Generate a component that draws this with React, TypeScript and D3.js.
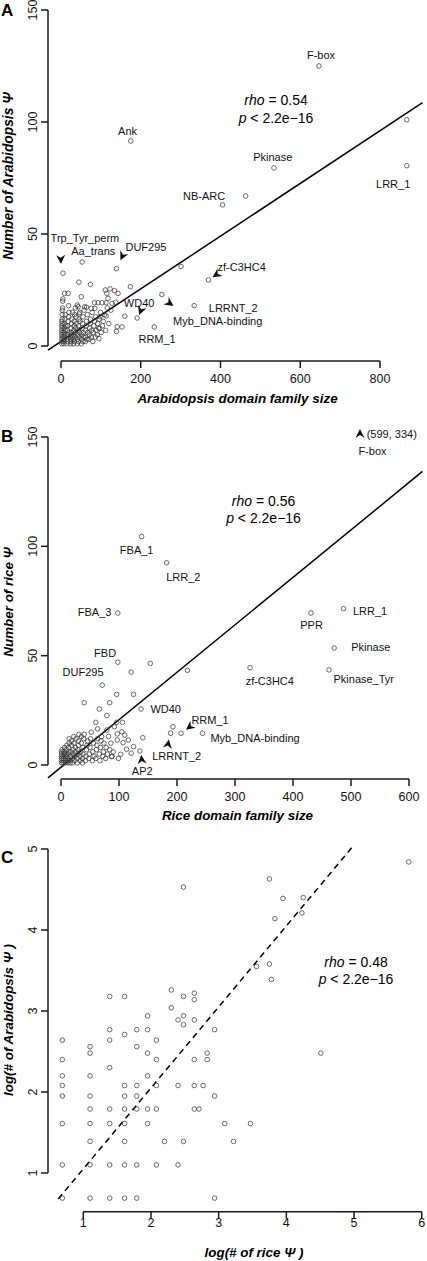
import React from 'react';
import * as d3 from 'd3';

const FONT = '"Liberation Sans", Arial, Helvetica, sans-serif';

// ---------- Panel A: Arabidopsis domain family size vs number of Arabidopsis Ψ ----------
const arabPoints: [number, number][] = [
  [647, 125], [867, 101], [867, 80.5], [175, 91.5], [534, 79.5], [463, 67], [405, 63],
  [5, 32.5], [53, 37.5], [139, 34.5], [301, 35.5], [370, 29.5], [191, 12.5], [253, 23], [334, 18], [234, 8.5],
  [174, 26.5], [160, 13.3], [153, 8.5], [141, 8.6], [139, 6.5], [95, 3.3], [97, 7.9],
  [45, 28.5], [74, 27.5], [9, 23.5], [18, 23.5], [5, 21], [51, 22],
  [111, 25], [123, 25.5], [134, 24.7], [115, 23.4], [143, 23.5], [118, 21.3],
  [93, 19.3], [103, 19.3], [113, 19.3], [137, 19.5], [84, 19.3],
  [43, 17.5], [59, 17.5], [76, 16.8], [85, 16.8], [41, 18.3], [64, 17.3], [113, 13.4], [98, 13.1], [46, 14.3],
  [2, 1], [2, 3], [2, 5], [2, 7], [2, 9], [2, 11], [3, 2], [3, 4], [3, 6], [3, 8], [3, 10], [3, 12], [3, 14], [3, 16], [4, 20], [4, 17],
  [7, 1], [7, 2], [7, 4], [7, 6], [8, 8], [8, 10], [8, 3], [9, 5], [10, 12], [11, 14], [10, 7], [12, 9],
  [15, 1], [15, 3], [16, 5], [16, 7], [17, 2], [17, 9], [18, 11], [18, 4], [19, 13], [20, 6], [20, 15], [19, 18],
  [24, 1], [24, 3], [25, 5], [25, 8], [26, 2], [26, 10], [27, 12], [27, 6], [28, 4], [29, 15],
  [31, 1], [31, 3], [32, 5], [32, 7], [33, 9], [33, 11], [34, 2], [34, 14], [35, 4], [36, 6], [36, 17], [37, 8], [38, 10], [38, 13],
  [41, 1], [41, 3], [42, 5], [43, 7], [44, 2], [44, 9], [45, 12], [46, 4], [47, 6], [47, 15], [48, 11],
  [51, 1], [51, 3], [52, 5], [53, 8], [54, 10], [55, 2], [55, 13], [56, 6], [57, 4], [58, 16],
  [61, 2], [62, 4], [62, 7], [63, 9], [64, 11], [65, 3], [66, 14], [67, 6],
  [70, 3], [71, 5], [72, 8], [73, 10], [74, 12], [76, 4], [77, 7], [78, 15],
  [80, 2], [81, 6], [82, 9], [84, 11], [86, 4], [87, 13], [88, 7],
  [91, 5], [92, 10], [94, 8], [96, 12], [99, 15], [101, 6], [104, 9], [106, 11], [109, 14], [112, 7], [116, 17], [120, 10], [125, 16], [128, 19],
];
const arabLabels: [string, number, number][] = [
  ['F-box', 652, 128], ['Ank', 167, 94], ['Pkinase', 531, 82.4], ['LRR_1', 833, 70.5], ['NB-ARC', 359, 65],
  ['Trp_Tyr_perm', 60, 46.4], ['Aa_trans', 81, 40.8], ['DUF295', 213, 42.4], ['zf-C3HC4', 453, 33.5],
  ['WD40', 196, 17.6], ['LRRNT_2', 432, 15.4], ['Myb_DNA-binding', 393, 9.4], ['RRM_1', 241, 1.3],
];
const arabArrows: [number, number, number][] = [
  [0, 36.6, 88], [149, 38.3, 116], [380, 30.7, 146], [196, 13.8, 110], [282, 17.9, 35],
];
const arabFit = { intercept: 2.0, slope: 0.1176 };
const arabXTicks = [0, 200, 400, 600, 800];
const arabYTicks = [0, 50, 100, 150];

// ---------- Panel B: rice domain family size vs number of rice Ψ ----------
const ricePoints: [number, number][] = [
  [139, 104.5], [182, 92.5], [98, 69.5], [487, 71.5], [431, 69.5], [471, 53.5], [462, 43.5], [326, 44.5],
  [98, 47], [154, 46.5], [121, 42.5], [218, 43.3], [71, 36.5], [96, 32.3], [125, 32.3], [40, 28.5], [84, 28.5], [66, 25.6], [138, 25.6],
  [79, 22.6], [60, 19.5], [63, 16.5], [96, 19.5], [106, 19.5], [141, 12.5], [193, 17.5], [189, 14.5], [207, 14.5], [244, 14.5], [136, 6.4],
  [113, 7.2], [107, 10.2], [121, 5.4], [87, 3.8], [103, 4.9], [92, 17.5], [97, 14.2], [97, 11.4], [79, 16], [70, 13],
  [105, 15.2], [110, 13.7], [116, 11.4], [125, 8.4], [99, 3],
  [1, 1], [1, 2], [1, 3], [1, 4], [1, 5], [1, 6], [2, 7],
  [4, 1], [4, 2], [4, 3], [5, 4], [5, 5], [5, 6], [6, 8],
  [8, 1], [8, 2], [8, 3], [9, 4], [9, 5], [9, 7], [10, 9],
  [12, 1], [12, 2], [12, 3], [13, 5], [13, 6], [13, 8], [14, 10], [14, 12],
  [16, 1], [16, 2], [17, 4], [17, 6], [18, 9], [18, 11],
  [20, 1], [20, 3], [21, 5], [21, 7], [22, 10], [22, 13],
  [24, 2], [24, 4], [25, 6], [25, 8], [26, 12],
  [28, 1], [28, 3], [29, 5], [29, 7], [30, 9], [30, 11], [31, 14],
  [33, 2], [33, 4], [34, 6], [35, 10], [35, 13],
  [37, 1], [37, 3], [38, 5], [38, 8], [39, 12], [40, 14],
  [42, 2], [43, 4], [44, 7], [45, 9], [46, 11],
  [48, 3], [49, 5], [50, 8], [51, 12], [52, 15],
  [54, 2], [55, 6], [56, 10], [57, 4],
  [60, 3], [61, 7], [62, 9], [63, 12],
  [66, 5], [67, 2], [68, 8], [69, 11],
  [72, 4], [73, 6], [74, 10],
  [77, 3], [78, 8], [80, 5], [82, 13], [84, 7], [86, 10], [88, 4], [90, 6],
];
const riceLabels: [string, number, number][] = [
  ['F-box', 537, 141.8], ['FBA_1', 130.5, 96.3], ['LRR_2', 211, 84.2], ['FBA_3', 58, 68.2], ['LRR_1', 533, 68.8],
  ['PPR', 432, 62], ['Pkinase', 534, 52.2], ['Pkinase_Tyr', 522, 37.5], ['zf-C3HC4', 360, 36.4], ['FBD', 76, 49.4],
  ['DUF295', 38, 40.5], ['WD40', 180.5, 23.8], ['RRM_1', 257, 18.8], ['Myb_DNA-binding', 334.5, 10.5],
  ['LRRNT_2', 199.5, 2.5], ['AP2', 140, -4.6],
];
const riceOffChart = { label: '(599, 334)', x: 527, y: 149.6 };
const riceArrows: [number, number, number][] = [
  [515.5, 153.7, -90], [215.5, 16.1, 142], [186, 11.7, -80], [138.4, 4.6, -95],
];
const riceFit = { intercept: -1.0, slope: 0.217 };
const riceXTicks = [0, 100, 200, 300, 400, 500, 600];
const riceYTicks = [0, 50, 100, 150];

// ---------- Panel C: log(# of rice Ψ) vs log(# of Arabidopsis Ψ) ----------
const logPoints: [number, number][] = [
  [5.81, 4.84], [3.75, 4.63], [2.48, 4.53], [3.95, 4.39], [4.25, 4.40], [3.83, 4.14], [4.23, 4.21],
  [3.56, 3.55], [3.75, 3.58], [3.78, 3.39],
  [1.39, 3.18], [1.61, 3.18], [2.48, 3.18], [2.30, 3.26], [2.64, 3.22], [2.64, 3.14], [2.30, 3.04],
  [1.95, 2.94], [2.48, 2.94], [2.40, 2.89], [2.64, 2.89], [2.48, 2.83],
  [1.39, 2.77], [1.79, 2.77], [1.95, 2.77], [2.94, 2.77], [1.61, 2.71],
  [0.69, 2.64], [1.39, 2.64], [2.08, 2.64], [1.10, 2.56], [1.79, 2.56],
  [1.10, 2.48], [1.95, 2.48], [2.83, 2.48], [4.51, 2.48],
  [0.69, 2.40], [2.08, 2.40], [2.64, 2.40], [2.83, 2.40], [1.39, 2.30],
  [0.69, 2.20], [1.10, 2.20], [1.95, 2.20],
  [0.69, 2.08], [1.61, 2.08], [1.79, 2.08], [2.08, 2.08], [2.40, 2.08], [2.64, 2.08], [2.77, 2.08],
  [0.69, 1.95], [1.10, 1.95], [1.61, 1.95], [1.79, 1.95], [2.94, 1.95],
  [1.10, 1.79], [1.39, 1.79], [1.61, 1.79], [1.79, 1.79], [1.95, 1.79], [2.08, 1.79], [2.64, 1.79], [2.71, 1.79],
  [0.69, 1.61], [1.10, 1.61], [1.39, 1.61], [1.61, 1.61], [1.95, 1.61], [3.09, 1.61], [3.47, 1.61],
  [1.10, 1.39], [1.61, 1.39], [2.20, 1.39], [2.48, 1.39], [3.22, 1.39],
  [0.69, 1.10], [1.10, 1.10], [1.39, 1.10], [1.61, 1.10], [1.79, 1.10], [2.08, 1.10], [2.40, 1.10],
  [0.69, 0.69], [1.10, 0.69], [1.39, 0.69], [1.61, 0.69], [1.79, 0.69], [2.94, 0.69],
];
const logFit = { intercept: 0.05, slope: 1.0, from: 0.63 };
const logXTicks = [1, 2, 3, 4, 5, 6];
const logYTicks = [1, 2, 3, 4, 5];

// ---------- layout ----------
const AXIS_X = 48;
const PLOT_RIGHT = 422.5;

const xA = d3.scaleLinear().domain([0, 800]).range([61, 380]);
const yA = d3.scaleLinear().domain([0, 150]).range([346, 10]);
const xB = d3.scaleLinear().domain([0, 600]).range([61, 409]);
const yB = d3.scaleLinear().domain([0, 150]).range([765, 437]);
const xC = d3.scaleLinear().domain([1, 6]).range([83.3, 421.7]);
const yC = d3.scaleLinear().domain([1, 4]).range([1173, 930]);

const STROKE = '#1a1a1a';

function Dart({ x, y, angle }: { x: number; y: number; angle: number }) {
  return (
    <path
      d="M0,0 L-9,-4.5 L-6.2,0 L-9,4.5 Z"
      transform={`translate(${x},${y}) rotate(${angle})`}
      fill="#111"
    />
  );
}

function Axes({ x, y, xTicks, yTicks, axisY, labelBase }: any) {
  const x0 = x(xTicks[0]);
  const x1 = x(xTicks[xTicks.length - 1]);
  const y0 = y(yTicks[0]);
  const y1 = y(yTicks[yTicks.length - 1]);
  return (
    <g>
      <line x1={x0} x2={x1} y1={axisY} y2={axisY} stroke={STROKE} strokeWidth={1.5} />
      {xTicks.map((t: number) => (
        <g key={'x' + t}>
          <line x1={x(t)} x2={x(t)} y1={axisY} y2={axisY + 7} stroke={STROKE} strokeWidth={1.5} />
          <text x={x(t)} y={labelBase} textAnchor="middle" fontSize={12.5} fill="#111">{t}</text>
        </g>
      ))}
      <line x1={AXIS_X} x2={AXIS_X} y1={y0} y2={y1} stroke={STROKE} strokeWidth={1.5} />
      {yTicks.map((t: number) => (
        <g key={'y' + t}>
          <line x1={AXIS_X - 7} x2={AXIS_X} y1={y(t)} y2={y(t)} stroke={STROKE} strokeWidth={1.5} />
          <text transform={`translate(37,${y(t)}) rotate(-90)`} textAnchor="middle" fontSize={12.5} fill="#111">{t}</text>
        </g>
      ))}
    </g>
  );
}

function Points({ data, x, y }: any) {
  return (
    <g>
      {data.map((d: [number, number], i: number) => (
        <circle key={i} cx={x(d[0])} cy={y(d[1])} r={2.3} fill="none" stroke="#3a3a3a" strokeWidth={0.75} />
      ))}
    </g>
  );
}

function FitLine({ fit, x, y, xFrom, xTo, dash }: any) {
  const line = d3.line<number>().x((v) => x(v)).y((v) => y(fit.intercept + fit.slope * v));
  return <path d={line([xFrom, xTo]) || ''} fill="none" stroke="#000" strokeWidth={1.5} strokeDasharray={dash} />;
}

function Labels({ data, x, y }: any) {
  return (
    <g>
      {data.map((d: [string, number, number]) => (
        <text key={d[0] + d[1]} x={x(d[1])} y={y(d[2])} textAnchor="middle" fontSize={11} fill="#111">{d[0]}</text>
      ))}
    </g>
  );
}

function Rho({ cx, y1, y2, rho }: { cx: number; y1: number; y2: number; rho: string }) {
  return (
    <g fontSize={14} fill="#000">
      <text x={cx} y={y1} textAnchor="middle"><tspan fontStyle="italic">rho</tspan> = {rho}</text>
      <text x={cx} y={y2} textAnchor="middle"><tspan fontStyle="italic">p</tspan> &lt; 2.2e−16</text>
    </g>
  );
}

export default function App() {
  const aFrom = xA.invert(AXIS_X);
  const aTo = xA.invert(PLOT_RIGHT);
  const bFrom = xB.invert(AXIS_X);
  const bTo = xB.invert(PLOT_RIGHT);
  const cTopY = yC.invert(847);
  const cTo = (cTopY - logFit.intercept) / logFit.slope;

  return (
    <svg
      width={427}
      height={1261}
      style={{ position: 'absolute', left: 0, top: 0, display: 'block', background: '#fff' }}
      fontFamily={FONT}
    >
      <rect x={0} y={0} width={427} height={1261} fill="#fff" />

      {/* Panel A */}
      <text x={1} y={15.5} fontSize={17} fontWeight="bold">A</text>
      <Axes x={xA} y={yA} xTicks={arabXTicks} yTicks={arabYTicks} axisY={361} labelBase={383} />
      <FitLine fit={arabFit} x={xA} y={yA} xFrom={aFrom} xTo={aTo} />
      <Points data={arabPoints} x={xA} y={yA} />
      <Labels data={arabLabels} x={xA} y={yA} />
      {arabArrows.map((a, i) => <Dart key={'aa' + i} x={xA(a[0])} y={yA(a[1])} angle={a[2]} />)}
      <Rho cx={276} y1={105} y2={123} rho="0.54" />
      <text x={237.5} y={403} textAnchor="middle" fontSize={13.4} fontWeight="bold" fontStyle="italic">Arabidopsis domain family size</text>
      <text transform="translate(13,176) rotate(-90)" textAnchor="middle" fontSize={13.8} fontWeight="bold" fontStyle="italic">Number of Arabidopsis Ψ</text>

      {/* Panel B */}
      <text x={1} y={442} fontSize={17} fontWeight="bold">B</text>
      <Axes x={xB} y={yB} xTicks={riceXTicks} yTicks={riceYTicks} axisY={779} labelBase={800.5} />
      <FitLine fit={riceFit} x={xB} y={yB} xFrom={bFrom} xTo={bTo} />
      <Points data={ricePoints} x={xB} y={yB} />
      <Labels data={riceLabels} x={xB} y={yB} />
      <text x={xB(riceOffChart.x)} y={yB(riceOffChart.y)} fontSize={11} fill="#111">{riceOffChart.label}</text>
      {riceArrows.map((a, i) => <Dart key={'ba' + i} x={xB(a[0])} y={yB(a[1])} angle={a[2]} />)}
      <Rho cx={263.5} y1={506} y2={523} rho="0.56" />
      <text x={237.5} y={820} textAnchor="middle" fontSize={13.4} fontWeight="bold" fontStyle="italic">Rice domain family size</text>
      <text transform="translate(13,602) rotate(-90)" textAnchor="middle" fontSize={13.4} fontWeight="bold" fontStyle="italic">Number of rice Ψ</text>

      {/* Panel C */}
      <text x={1} y={863} fontSize={17} fontWeight="bold">C</text>
      <Axes x={xC} y={yC} xTicks={logXTicks} yTicks={logYTicks} axisY={1211.7} labelBase={1227} />
      <FitLine fit={logFit} x={xC} y={yC} xFrom={logFit.from} xTo={cTo} dash="6,4.5" />
      <Points data={logPoints} x={xC} y={yC} />
      <Rho cx={356} y1={967} y2={984} rho="0.48" />
      <text x={254} y={1257} textAnchor="middle" fontSize={13.4} fontWeight="bold" fontStyle="italic">log(# of rice Ψ )</text>
      <text transform="translate(13,1020) rotate(-90)" textAnchor="middle" fontSize={13.4} fontWeight="bold" fontStyle="italic">log(# of Arabidopsis Ψ )</text>
    </svg>
  );
}
